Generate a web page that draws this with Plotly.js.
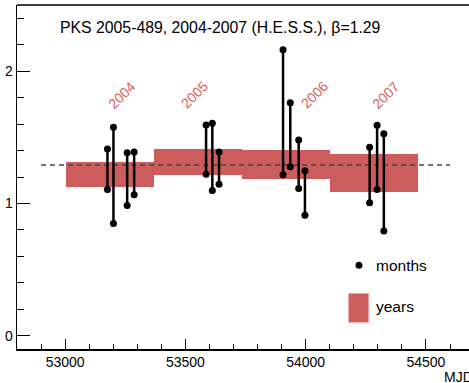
<!DOCTYPE html>
<html>
<head>
<meta charset="utf-8">
<script src="https://cdn.plot.ly/plotly-3.0.1.min.js"></script>
<style>
html,body{margin:0;padding:0;overflow:hidden;background:#fff;}
#plot{width:469px;height:383px;}
</style>
</head>
<body>
<div id="plot"></div>
<script>
// Yearly bins (MJD start/end) and flux ratio band
const yearLabels = ["2004", "2005", "2006", "2007"];
const yearStart = [53005, 53371, 53736, 54101];
const yearEnd   = [53371, 53736, 54101, 54466];
const yearLow   = [1.126, 1.217, 1.186, 1.088];
const yearHigh  = [1.311, 1.411, 1.404, 1.373];
const yearLabelX = [53236, 53536, 54035, 54333];
const yearLabelY = [1.82, 1.82, 1.82, 1.82];

// Monthly values (MJD, low and high end)
const monthMJD  = [53176, 53201, 53258, 53287, 53586, 53612, 53640, 53906, 53936, 53971, 53997, 54266, 54297, 54325];
const monthLow  = [1.106, 0.848, 0.985, 1.065, 1.220, 1.098, 1.146, 1.217, 1.277, 1.114, 0.911, 1.005, 1.106, 0.792];
const monthHigh = [1.411, 1.576, 1.383, 1.389, 1.593, 1.606, 1.389, 2.161, 1.762, 1.480, 1.247, 1.424, 1.591, 1.527];

const beta = 1.29;
const betaX = [52900, 54600];

const FONT = "Liberation Sans, Arial, Helvetica, sans-serif";
const RED = "#cd5c5c";

const mx = [], my = [];
for (let i = 0; i < monthMJD.length; i++) {
  mx.push(monthMJD[i], monthMJD[i], null);
  my.push(monthLow[i], monthHigh[i], null);
}

const traces = [
  {
    type: "bar",
    x: yearStart.map((s, i) => (s + yearEnd[i]) / 2),
    width: yearStart.map((s, i) => yearEnd[i] - s),
    base: yearLow,
    y: yearHigh.map((h, i) => h - yearLow[i]),
    marker: {color: RED, line: {width: 0}},
    hoverinfo: "skip",
    showlegend: false
  },
  {
    type: "scatter", mode: "lines",
    x: betaX, y: [beta, beta],
    line: {color: "#444444", width: 1.5, dash: "5px,4px"},
    showlegend: false, hoverinfo: "skip"
  },
  {
    type: "scatter", mode: "lines+markers",
    x: mx, y: my,
    line: {color: "#000", width: 2.5},
    marker: {color: "#000", size: 7},
    connectgaps: false,
    showlegend: false, hoverinfo: "skip"
  }
];

const annotations = yearLabels.map((t, i) => ({
  text: t, x: yearLabelX[i], y: yearLabelY[i], xref: "x", yref: "y",
  showarrow: false, textangle: -45,
  font: {family: FONT, size: 14, color: "#d9605c"}
}));

annotations.push(
  {text: "months", xref: "paper", yref: "paper", x: 0.7898, y: 0.2435,
   xanchor: "left", yanchor: "middle", showarrow: false,
   font: {family: FONT, size: 15.5, color: "#000"}},
  {text: "years", xref: "paper", yref: "paper", x: 0.7898, y: 0.124,
   xanchor: "left", yanchor: "middle", showarrow: false,
   font: {family: FONT, size: 15.5, color: "#000"}},
  {text: "MJD", xref: "paper", yref: "paper", x: 0.9395, y: -0.082,
   xanchor: "left", yanchor: "middle", showarrow: false,
   font: {family: FONT, size: 14, color: "#000"}}
);

const shapes = [
  {type: "line", xref: "paper", yref: "paper", x0: 0, x1: 1, y0: 1, y1: 1,
   line: {color: "#000", width: 1.5}},
  {type: "rect", xref: "paper", yref: "paper", x0: 0.7338, x1: 0.778, y0: 0.0777, y1: 0.1612,
   fillcolor: RED, line: {color: "#eaa0a0", width: 1}},
  {type: "circle", xref: "paper", yref: "paper", x0: 0.7566 - 0.0077, x1: 0.7566 + 0.0077,
   y0: 0.2435 - 0.0102, y1: 0.2435 + 0.0102, fillcolor: "#000", line: {color: "#000", width: 0}}
];

const layout = {
  width: 469, height: 383,
  margin: {l: 17, r: 0, t: 5, b: 34, pad: 0},
  paper_bgcolor: "#fff", plot_bgcolor: "#fff",
  showlegend: false,
  bargap: 0,
  title: {
    text: "PKS 2005-489, 2004-2007 (H.E.S.S.), β=1.29",
    xref: "container", yref: "container",
    x: 60 / 469, xanchor: "left", y: 1 - 27 / 383, yanchor: "middle",
    font: {family: FONT, size: 15.8, color: "#000"}
  },
  xaxis: {
    range: [52800, 54679], showgrid: false, zeroline: false,
    showline: true, linecolor: "#000", linewidth: 1.5,
    ticks: "inside", ticklen: 10, tickwidth: 1, tickcolor: "#000",
    tick0: 53000, dtick: 500, tickformat: "d",
    minor: {ticks: "inside", ticklen: 5, tickwidth: 1, tickcolor: "#000", dtick: 100, showgrid: false},
    tickfont: {family: FONT, size: 14, color: "#000"}
  },
  yaxis: {
    range: [-0.1, 2.5], showgrid: false, zeroline: false,
    showline: true, linecolor: "#000", linewidth: 1.5,
    ticks: "inside", ticklen: 13, tickwidth: 1, tickcolor: "#000",
    tick0: 0, dtick: 1,
    minor: {ticks: "inside", ticklen: 7, tickwidth: 1, tickcolor: "#000", dtick: 0.2, showgrid: false},
    tickfont: {family: FONT, size: 14, color: "#000"}
  },
  annotations: annotations,
  shapes: shapes
};

Plotly.newPlot("plot", traces, layout, {displayModeBar: false, staticPlot: true});
</script>
</body>
</html>
